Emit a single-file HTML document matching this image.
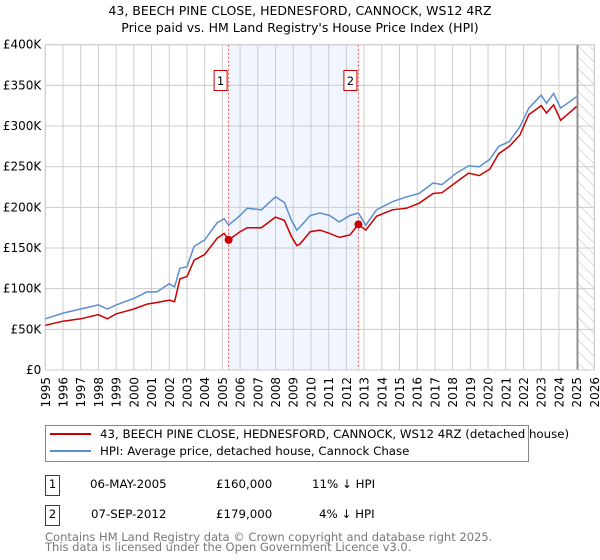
<!DOCTYPE html>
<html><head><meta charset="utf-8"><style>
body{margin:0;background:#fff;font-family:"Liberation Sans","DejaVu Sans",sans-serif;}
#wrap{position:relative;width:600px;height:560px;overflow:hidden}
</style></head><body>
<div id="wrap">
<svg id="chart" width="600" height="560" font-family="DejaVu Sans, Liberation Sans, sans-serif">
<text x="300" y="15" text-anchor="middle" font-size="12.5">43, BEECH PINE CLOSE, HEDNESFORD, CANNOCK, WS12 4RZ</text>
<text x="300" y="32" text-anchor="middle" font-size="12.5">Price paid vs. HM Land Registry's House Price Index (HPI)</text>
<g id="plot"></g>
<g>
<rect x="45.5" y="425.5" width="483" height="36" fill="#fff" stroke="#888"/>
<line x1="50" y1="434" x2="91" y2="434" stroke="#cc0000" stroke-width="2"/>
<text x="100" y="438" font-size="11.8">43, BEECH PINE CLOSE, HEDNESFORD, CANNOCK, WS12 4RZ (detached house)</text>
<line x1="50" y1="451" x2="91" y2="451" stroke="#5b8fd0" stroke-width="2"/>
<text x="100" y="455" font-size="11.8">HPI: Average price, detached house, Cannock Chase</text>
</g>
<g font-size="11.8">
<rect x="45.5" y="475.5" width="14" height="20" fill="#fff" stroke="#cc0000"/>
<text x="52.5" y="488" text-anchor="middle">1</text>
<text x="90" y="488">06-MAY-2005</text>
<text x="216" y="488">£160,000</text>
<text x="312" y="488">11% ↓ HPI</text>
<rect x="45.5" y="505.5" width="14" height="20" fill="#fff" stroke="#cc0000"/>
<text x="52.5" y="518" text-anchor="middle">2</text>
<text x="91" y="518">07-SEP-2012</text>
<text x="216" y="518">£179,000</text>
<text x="319" y="518">4% ↓ HPI</text>
</g>
<text x="45" y="541" font-size="11.5" fill="#777">Contains HM Land Registry data © Crown copyright and database right 2025.</text>
<text x="45" y="551" font-size="11.5" fill="#777">This data is licensed under the Open Government Licence v3.0.</text>
</svg>
</div>
<script>
const yTicks=[0,50,100,150,200,250,300,350,400];
const yTickLabels=["£0","£50K","£100K","£150K","£200K","£250K","£300K","£350K","£400K"];
const xYears=[1995,1996,1997,1998,1999,2000,2001,2002,2003,2004,2005,2006,2007,2008,2009,2010,2011,2012,2013,2014,2015,2016,2017,2018,2019,2020,2021,2022,2023,2024,2025,2026];
const hpiDates=[1995.0,1996.0,1997.0,1998.0,1998.5,1999.0,2000.0,2000.75,2001.3,2002.0,2002.3,2002.6,2003.0,2003.4,2004.0,2004.7,2005.1,2005.35,2006.0,2006.4,2007.2,2008.0,2008.5,2008.9,2009.2,2009.39,2009.96,2010.5,2011.06,2011.6,2012.2,2012.68,2013.1,2013.7,2014.6,2015.4,2016.1,2016.9,2017.4,2018.2,2018.9,2019.5,2020.1,2020.6,2021.2,2021.8,2022.3,2023.0,2023.3,2023.7,2024.1,2025.0];
const hpiValues=[63,70,75,80,75,80,88,96,96,106,102,125,127,152,160,181,186,178,190,199,197,213,206,184,172,176,190,193,190,182,190,193,178,197,207,213,217,230,228,242,251,250,259,275,281,299,322,338,328,340,322,336];
const priceValues=[55,60,63,68,63,69,75,81,83,86,84,112,115,135,142,162,168,160,170,175,175,188,184,164,153,155,170,172,168,163,166,179,172,189,197,199,205,217,218,231,242,239,247,266,275,289,314,325,316,326,307,324];
const saleDates=[2005.35,2012.68];
const saleValues=[160,179];
const saleLabels=["1","2"];

const NS="http://www.w3.org/2000/svg";
const X0=45.3,X1=594.3,Y0=370,Y1=44.7;
const xs=y=>X0+(y-1995)/(2026-1995)*(X1-X0);
const ys=v=>Y0-v/400*(Y0-Y1);
const g=document.getElementById('plot');
function mk(t,a){const e=document.createElementNS(NS,t);for(const k in a)e.setAttribute(k,a[k]);g.appendChild(e);return e;}
let r=mk('rect',{x:xs(saleDates[0]),y:Y1,width:xs(saleDates[1])-xs(saleDates[0]),height:Y0-Y1,fill:'#eef3fc',opacity:0.8});


const defs=document.createElementNS(NS,'defs');
defs.innerHTML='<pattern id="hatch" width="8" height="8" patternUnits="userSpaceOnUse" patternTransform="rotate(-45)"><line x1="0" y1="0" x2="0" y2="8" stroke="#bbb" stroke-width="1"/></pattern>';
g.appendChild(defs);
let h=mk('rect',{x:xs(2025.06),y:Y1,width:X1-xs(2025.06),height:Y0-Y1,fill:'url(#hatch)'});


yTicks.forEach((v,i)=>{
  let l=mk('line',{x1:X0,x2:X1,y1:ys(v),y2:ys(v),stroke:'#cccccc','stroke-width':1});
  
  
  let t=mk('text',{x:X0-4,y:ys(v)+4,'text-anchor':'end','font-size':12});
  t.textContent=yTickLabels[i];
  
  
});
xYears.forEach(yr=>{
  let l=mk('line',{x1:xs(yr),x2:xs(yr),y1:Y1,y2:Y0,stroke:'#cccccc','stroke-width':1});
  
  
  let t=mk('text',{x:0,y:0,'text-anchor':'end','font-size':12,transform:`translate(${xs(yr)+4.5},${Y0+7}) rotate(-90)`});
  t.textContent=yr;
  
  
});
let fl=mk('line',{x1:xs(2025.06),x2:xs(2025.06),y1:Y1,y2:Y0,stroke:'#888','stroke-width':1.5});


saleDates.forEach((d,i)=>{
  let l=mk('line',{x1:xs(d),x2:xs(d),y1:Y1,y2:Y0,stroke:'#ee5555','stroke-width':1,'stroke-dasharray':'2,2'});
  
  
  let b=mk('rect',{x:xs(d)-14.5,y:70.5,width:13,height:20,fill:'#fff',stroke:'#cc0000'});
  
  
  let t=mk('text',{x:xs(d)-8,y:85,'text-anchor':'middle','font-size':11.5});
  t.textContent=saleLabels[i];
  
  
});
let f=mk('rect',{x:X0,y:Y1,width:X1-X0,height:Y0-Y1,fill:'none',stroke:'#cccccc'});


function pts(vals){return hpiDates.map((d,i)=>xs(d).toFixed(1)+','+ys(vals[i]).toFixed(1)).join(' ');}
let hl=mk('polyline',{points:pts(hpiValues),fill:'none',stroke:'#5b8fd0','stroke-width':1.5});


let pl=mk('polyline',{points:pts(priceValues),fill:'none',stroke:'#cc0000','stroke-width':1.5});


saleDates.forEach((d,i)=>{
  let c=mk('circle',{cx:xs(d),cy:ys(saleValues[i]),r:4,fill:'#cc0000'});
  
  
});
</script>
</body></html>
